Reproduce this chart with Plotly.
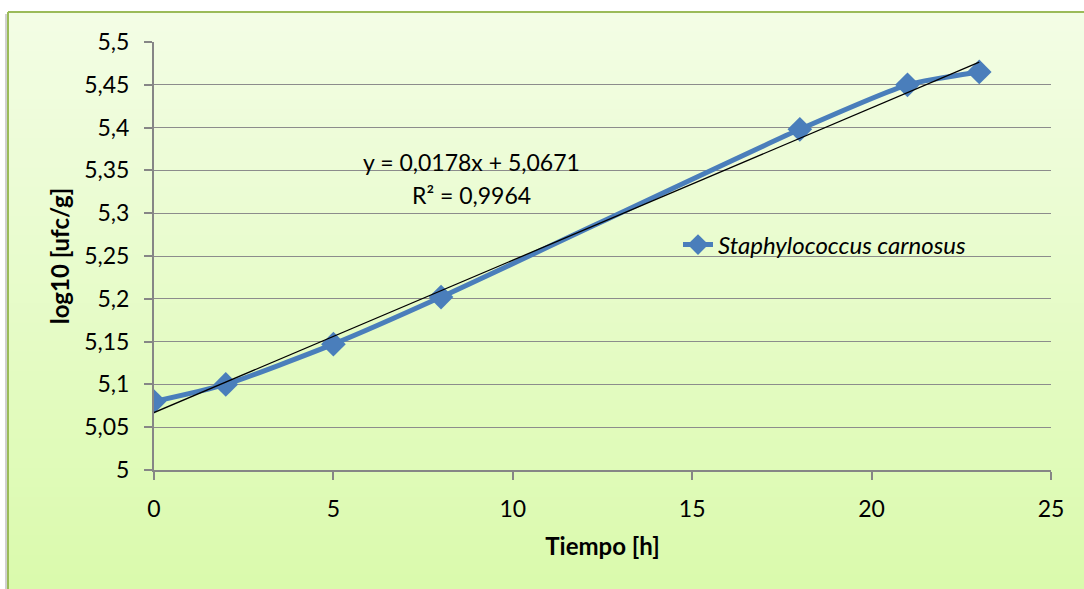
import plotly.graph_objects as go

# Growth of Staphylococcus carnosus over time
tiempo_h = [0, 2, 5, 8, 18, 21, 23]
log10_ufc = [5.080, 5.100, 5.147, 5.202, 5.398, 5.450, 5.465]

# Linear fit reported on the chart
pendiente = 0.0178
intercepto = 5.0671
r2 = 0.9964

x_ticks = [0, 5, 10, 15, 20, 25]
y_ticks = [5.0, 5.05, 5.1, 5.15, 5.2, 5.25, 5.3, 5.35, 5.4, 5.45, 5.5]
y_ticktext = ["5", "5,05", "5,1", "5,15", "5,2", "5,25", "5,3", "5,35", "5,4", "5,45", "5,5"]

W, H = 1084, 589
ML, MR, MT, MB = 154, 33, 42, 119
FONT = "Lato, Calibri, 'Open Sans', sans-serif"

fig = go.Figure()

fig.add_trace(go.Scatter(
    x=tiempo_h, y=log10_ufc, mode="lines+markers",
    name="<i>Staphylococcus carnosus</i>",
    line=dict(color="#4a7ebb", width=5, shape="spline", smoothing=0.6),
    marker=dict(symbol="diamond", size=19, color="#4a7ebb"),
))

x_fit = [tiempo_h[0], tiempo_h[-1]]
y_fit = [intercepto + pendiente * v for v in x_fit]
fig.add_trace(go.Scatter(
    x=x_fit, y=y_fit, mode="lines", showlegend=False,
    line=dict(color="black", width=1.3),
))

px = lambda v: (v - ML) / (W - ML - MR)
py = lambda v: (H - MB - v) / (H - MT - MB)

# Background panel with a vertical green gradient, framed on top and left
shapes = []
n = 60
top_c = (243, 253, 229)
bot_c = (218, 250, 172)
y0_px, y1_px = 12, H + 5
for i in range(n):
    t = i / (n - 1)
    c = tuple(round(top_c[k] + (bot_c[k] - top_c[k]) * t) for k in range(3))
    a = y0_px + (y1_px - y0_px) * i / n
    b = y0_px + (y1_px - y0_px) * (i + 1) / n + 1
    shapes.append(dict(
        type="rect", xref="paper", yref="paper", layer="below",
        x0=px(8), x1=px(W + 5), y0=py(b), y1=py(a),
        fillcolor="rgb(%d,%d,%d)" % c, line=dict(width=0),
    ))
shapes.append(dict(type="line", xref="paper", yref="paper", layer="below",
                   x0=px(8), x1=px(W + 5), y0=py(12), y1=py(12),
                   line=dict(color="#9bbb59", width=2)))
shapes.append(dict(type="line", xref="paper", yref="paper", layer="below",
                   x0=px(8), x1=px(8), y0=py(12), y1=py(H + 5),
                   line=dict(color="#9bbb59", width=2)))
shapes.append(dict(type="line", xref="paper", yref="paper", layer="below",
                   x0=px(6), x1=px(6), y0=py(14), y1=py(H + 5),
                   line=dict(color="#d0d0d0", width=2)))

fig.update_layout(
    width=W, height=H,
    margin=dict(l=ML, r=MR, t=MT, b=MB),
    paper_bgcolor="white", plot_bgcolor="white",
    font=dict(family=FONT, size=23, color="black"),
    shapes=shapes,
    showlegend=True,
    legend=dict(x=px(678), y=py(245), xanchor="left", yanchor="middle",
                bgcolor="rgba(0,0,0,0)", font=dict(size=24, family=FONT)),
    xaxis=dict(
        range=[0, 25], tickvals=x_ticks, showgrid=False, zeroline=False,
        showline=True, linecolor="#868686", linewidth=2,
        ticks="outside", ticklen=8, tickcolor="#868686", tickwidth=2,
        tickfont=dict(size=23), ticklabelstandoff=9,
        title=dict(text="<b>Tiempo [h]</b>", font=dict(size=24), standoff=18),
    ),
    yaxis=dict(
        range=[5.0, 5.5], tickvals=y_ticks, ticktext=y_ticktext,
        showgrid=True, gridcolor="#8c8c8c", gridwidth=1.3, zeroline=False,
        showline=True, linecolor="#868686", linewidth=2,
        ticks="outside", ticklen=8, tickcolor="#868686", tickwidth=2,
        tickfont=dict(size=23), ticklabelstandoff=10,
        title=dict(text="<b>log10 [ufc/g]</b>", font=dict(size=24), standoff=8),
    ),
    annotations=[
        dict(x=8.86, y=5.36, xref="x", yref="y", showarrow=False,
             text="y = 0,0178x + 5,0671", font=dict(size=23)),
        dict(x=8.86, y=5.321, xref="x", yref="y", showarrow=False,
             text="R² = 0,9964", font=dict(size=23)),
    ],
)

fig.write_html("out.html")
